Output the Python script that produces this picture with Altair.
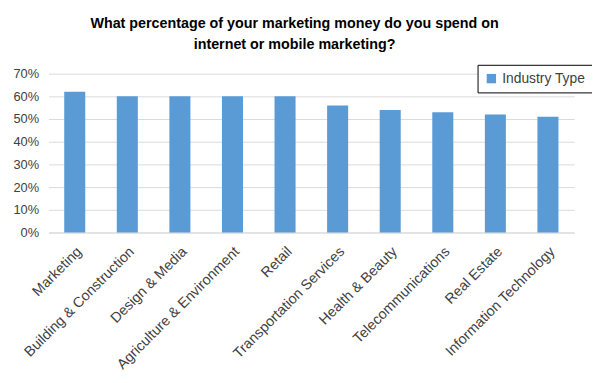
import altair as alt
import pandas as pd

categories = ["Marketing", "Building & Construction", "Design & Media",
              "Agriculture & Environment", "Retail", "Transportation Services",
              "Health & Beauty", "Telecommunications", "Real Estate",
              "Information Technology"]
values = [0.62, 0.60, 0.60, 0.60, 0.60, 0.56, 0.54, 0.53, 0.52, 0.51]
series_name = "Industry Type"
y_ticks = [0, 0.1, 0.2, 0.3, 0.4, 0.5, 0.6, 0.7]
title_lines = ["What percentage of your marketing money do you spend on",
               "internet or mobile marketing?"]

df = pd.DataFrame({"category": categories, "value": values,
                   "series": [series_name] * len(categories)})

font = "Liberation Sans"

chart = alt.Chart(df).mark_bar(color="#5B9BD5").encode(
    x=alt.X("category:N", sort=categories, title=None,
            scale=alt.Scale(paddingInner=0.6, paddingOuter=0.3),
            axis=alt.Axis(labelAngle=-45, labelFontSize=14.5, labelColor="#404040",
                          labelFont=font, ticks=False, domainColor="#d9d9d9",
                          labelPadding=12, labelLimit=300)),
    y=alt.Y("value:Q", title=None,
            scale=alt.Scale(domain=[0, 0.7], nice=False),
            axis=alt.Axis(values=y_ticks, format=".0%", labelFontSize=13,
                          labelColor="#404040", labelFont=font, ticks=False,
                          domain=False, gridColor="#d9d9d9", labelPadding=10)),
    color=alt.Color("series:N", title=None,
                    scale=alt.Scale(domain=[series_name], range=["#5B9BD5"]),
                    legend=alt.Legend(orient="none", legendX=435, legendY=-9,
                                      strokeColor="black",
                                      padding=7, symbolType="square",
                                      symbolSize=90, labelFontSize=14,
                                      labelFont=font, labelColor="#404040",
                                      fillColor="white")),
).properties(
    width=533, height=161,
    title=alt.Title(title_lines, fontSize=14.5, font=font, fontWeight="bold",
                    color="#000000", anchor="middle", dx=-17, lineHeight=21,
                    offset=12),
    padding={"left": 41, "top": 64, "right": 18, "bottom": 150},
    autosize=alt.AutoSizeParams(type="none"),
).configure_view(stroke=None)

chart.save("out.html", embed_options={"renderer": "svg", "actions": False})
